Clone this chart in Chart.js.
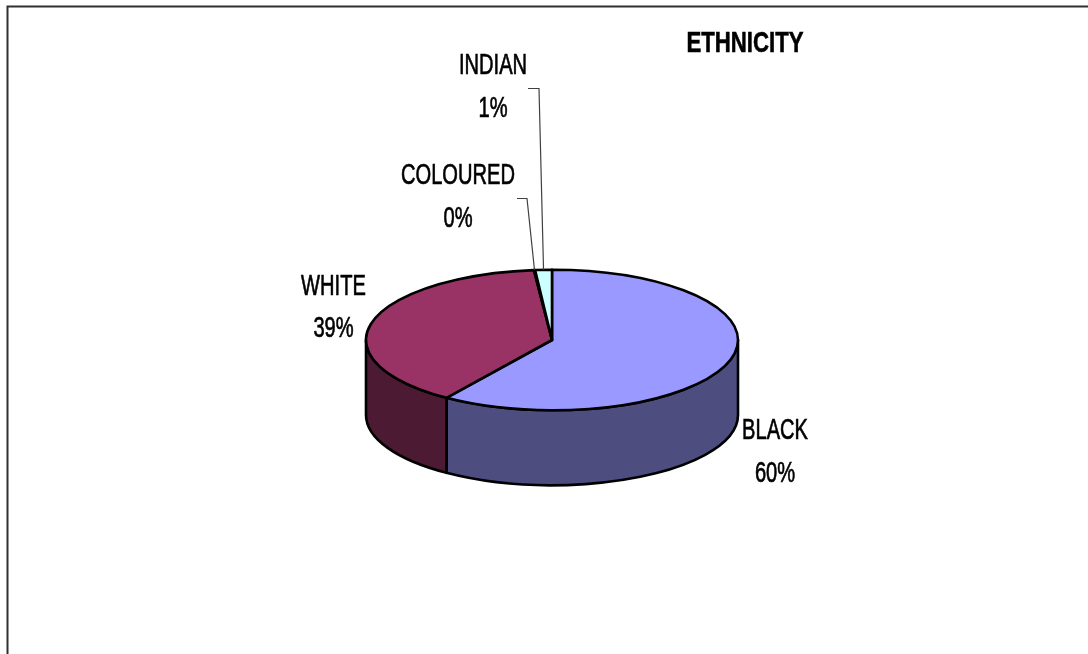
<!DOCTYPE html>
<html><head><meta charset="utf-8">
<script src="https://cdn.jsdelivr.net/npm/chart.js@4.4.1/dist/chart.umd.min.js"></script>
<style>html,body{margin:0;padding:0;background:#fff;overflow:hidden}canvas{display:block}</style>
</head><body>
<canvas id="c" width="1088" height="654"></canvas>
<script>
// ---- data ----
const categories = ['BLACK', 'WHITE', 'COLOURED', 'INDIAN'];
const shares = [59.6, 38.85, 0.1, 1.45];
const percentLabels = ['60%', '39%', '0%', '1%'];
const chartTitle = 'ETHNICITY';

// ---- styles ----
const topColors = ['#9999FF', '#993366', '#FFFFCC', '#CCFFFF'];
const sideColors = ['#4D4D80', '#4D1A33', '#808066', '#668080'];
const TILT = 0.3777;   // vertical squash of the pie
const DEPTH = 75;      // thickness of the pie
const LABEL_FONT = '30px "Liberation Sans", Arial, sans-serif';
const TITLE_FONT = 'bold 30px "Liberation Sans", Arial, sans-serif';
const LABEL_SX = 0.67, TITLE_SX = 0.74;
// label layout: centre x, baseline of name, baseline of percent, optional leader elbow
const labelLayout = [
  { x: 775, y1: 439, y2: 482 },
  { x: 333.5, y1: 295, y2: 337 },
  { x: 458, y1: 184, y2: 227, leader: { x0: 517, x1: 527, y: 198 } },
  { x: 493, y1: 73.5, y2: 117.3, leader: { x0: 528, x1: 539, y: 88 } }
];

function condensedText(ctx, text, x, y, font, sx, sw) {
  ctx.save();
  ctx.font = font;
  ctx.translate(x, y);
  ctx.scale(sx, 1);
  ctx.textAlign = 'center';
  ctx.textBaseline = 'alphabetic';
  ctx.fillStyle = '#000';
  ctx.fillText(text, 0, 0);
  if (sw) {
    ctx.strokeStyle = '#000';
    ctx.lineWidth = sw;
    ctx.strokeText(text, 0, 0);
  }
  ctx.restore();
}

const pie3d = {
  id: 'pie3d',
  beforeDraw(chart) {
    const ctx = chart.ctx;
    ctx.save();
    ctx.strokeStyle = '#303030';
    ctx.lineWidth = 2;
    ctx.beginPath();
    ctx.moveTo(7.5, chart.height);
    ctx.lineTo(7.5, 6.5);
    ctx.lineTo(chart.width, 6.5);
    ctx.stroke();
    ctx.restore();
  },
  beforeDatasetsDraw(chart) {
    const ctx = chart.ctx;
    const meta = chart.getDatasetMeta(0);
    const arcs = meta.data.map((a, i) => {
      const p = a.getProps(['x', 'y', 'startAngle', 'endAngle', 'outerRadius'], true);
      return { ...p, i };
    });
    ctx.save();
    ctx.lineWidth = 2.6;
    ctx.strokeStyle = '#000';
    ctx.lineJoin = 'round';
    // side walls (front half only)
    arcs.forEach(a => {
      const cx = a.x, cy = a.y, rx = a.outerRadius, ry = a.outerRadius * TILT;
      for (let k = -1; k <= 1; k++) {
        const s = Math.max(a.startAngle, 2 * Math.PI * k);
        const e = Math.min(a.endAngle, Math.PI + 2 * Math.PI * k);
        if (e <= s) continue;
        ctx.beginPath();
        ctx.ellipse(cx, cy, rx, ry, 0, s, e, false);
        ctx.lineTo(cx + rx * Math.cos(e), cy + ry * Math.sin(e) + DEPTH);
        ctx.ellipse(cx, cy + DEPTH, rx, ry, 0, e, s, true);
        ctx.closePath();
        ctx.fillStyle = sideColors[a.i];
        ctx.fill();
        ctx.stroke();
      }
    });
    // top faces
    arcs.forEach(a => {
      const cx = a.x, cy = a.y, rx = a.outerRadius, ry = a.outerRadius * TILT;
      ctx.beginPath();
      ctx.moveTo(cx, cy);
      ctx.ellipse(cx, cy, rx, ry, 0, a.startAngle, a.endAngle, false);
      ctx.closePath();
      ctx.fillStyle = chart.data.datasets[0].backgroundColor[a.i];
      ctx.fill();
      ctx.stroke();
    });
    ctx.restore();
    return false;
  },
  afterDraw(chart) {
    const ctx = chart.ctx;
    const meta = chart.getDatasetMeta(0);
    // leader lines
    ctx.save();
    ctx.strokeStyle = '#404040';
    ctx.lineWidth = 1.2;
    meta.data.forEach((arc, i) => {
      const L = labelLayout[i].leader;
      if (!L) return;
      const p = arc.getProps(['x', 'y', 'startAngle', 'endAngle', 'outerRadius'], true);
      const mid = (p.startAngle + p.endAngle) / 2;
      const tx = p.x + p.outerRadius * Math.cos(mid);
      const ty = p.y + p.outerRadius * TILT * Math.sin(mid);
      ctx.beginPath();
      ctx.moveTo(L.x0, L.y + 0.5);
      ctx.lineTo(L.x1, L.y + 0.5);
      ctx.lineTo(tx, ty);
      ctx.stroke();
    });
    ctx.restore();
    // labels
    categories.forEach((name, i) => {
      const l = labelLayout[i];
      condensedText(ctx, name, l.x, l.y1, LABEL_FONT, LABEL_SX, 0.7);
      condensedText(ctx, percentLabels[i], l.x, l.y2, LABEL_FONT, LABEL_SX, 0.7);
    });
    condensedText(ctx, chartTitle, 745, 51.5, TITLE_FONT, TITLE_SX, 0.6);
  }
};

new Chart(document.getElementById('c'), {
  type: 'pie',
  data: {
    labels: categories,
    datasets: [{ data: shares, backgroundColor: topColors, borderWidth: 0 }]
  },
  options: {
    responsive: false,
    devicePixelRatio: 1,
    animation: false,
    layout: { padding: { left: 366, right: 350, top: 154, bottom: 128 } },
    plugins: { legend: { display: false }, title: { display: false }, tooltip: { enabled: false } }
  },
  plugins: [pie3d]
});
</script>
</body></html>
